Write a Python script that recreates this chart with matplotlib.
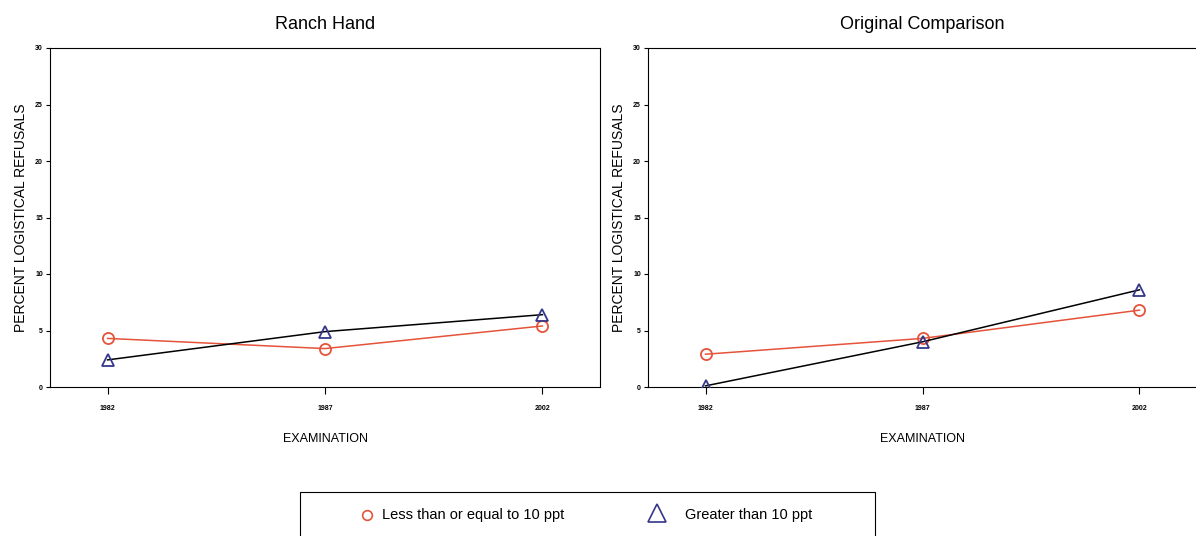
import matplotlib
matplotlib.use("Agg")
import matplotlib.pyplot as plt
from matplotlib.lines import Line2D
from matplotlib.patches import Rectangle

plt.rcParams['font.family'] = ['Liberation Sans', 'DejaVu Sans']

# Data
exams = ["1982", "1987", "2002"]
panels = ["Ranch Hand", "Original Comparison"]
ranch_low = [4.3, 3.4, 5.4]
ranch_high = [2.4, 4.9, 6.4]
comp_low = [2.9, 4.3, 6.8]
comp_high = [0.1, 4.0, 8.6]
yticks = [0, 5, 10, 15, 20, 25, 30]
series_labels = ["Less than or equal to 10 ppt", "Greater than 10 ppt"]

RED = "#e5533a"
BLUE = "#34378a"

W, H = 1196, 536
fig = plt.figure(figsize=(W / 100, H / 100), dpi=100)


def px_box(x0, y0, x1, y1):
    return [x0 / W, 1 - y1 / H, (x1 - x0) / W, (y1 - y0) / H]


def fx(px):
    return px / W


def fy(py):
    return 1 - py / H


ax1 = fig.add_axes(px_box(50, 48, 600, 387))
ax2 = fig.add_axes(px_box(648, 48, 1197, 387))

data = [(ranch_low, ranch_high), (comp_low, comp_high)]
xs = list(range(len(exams)))

for ax, title, (low, high) in zip([ax1, ax2], panels, data):
    ax.plot(xs, low, color=RED, lw=1.1, marker="o", ms=8,
            mfc="none", mec=RED, mew=1.3, zorder=3)
    ax.plot(xs, high, color="black", lw=1.1, marker="^", ms=8,
            mfc="none", mec=BLUE, mew=1.3, zorder=4)
    ax.set_xlim(-0.265, 2.265)
    ax.set_ylim(0, 30)
    ax.set_xticks(xs)
    ax.set_xticklabels(exams, fontsize=5, fontweight="bold")
    ax.set_yticks(yticks)
    ax.set_yticklabels([str(t) for t in yticks], fontsize=5, fontweight="bold")
    ax.tick_params(axis="x", length=5, width=0.8, pad=8)
    ax.tick_params(axis="y", length=3, width=0.8, pad=2)
    ax.set_title(title, fontsize=13, pad=14)
    ax.set_xlabel("EXAMINATION", fontsize=9, labelpad=15)
    ax.set_ylabel("PERCENT LOGISTICAL REFUSALS", fontsize=10, labelpad=5)
    for s in ax.spines.values():
        s.set_linewidth(0.8)

ax2.spines["left"].set_linestyle((0, (1, 1)))
ax2.spines["right"].set_visible(False)

# Legend box at the bottom
fig.patches.append(Rectangle((fx(300), -0.02), 575 / W, (536 - 492) / H + 0.02,
                             transform=fig.transFigure, fill=False,
                             edgecolor="black", lw=0.8))
legend_y = fy(515)
fig.add_artist(Line2D([fx(367)], [legend_y], transform=fig.transFigure,
                      ls="none", marker="o", ms=7, mfc="none", mec=RED, mew=1.2))
fig.add_artist(Line2D([fx(657)], [fy(513)], transform=fig.transFigure,
                      ls="none", marker="^", ms=13, mfc="none", mec=BLUE, mew=1.2))
fig.text(fx(382), legend_y, series_labels[0], fontsize=10.5,
         ha="left", va="center", fontstretch="condensed")
fig.text(fx(685), legend_y, series_labels[1], fontsize=10.5,
         ha="left", va="center", fontstretch="condensed")

fig.savefig("out.png", dpi=100)
